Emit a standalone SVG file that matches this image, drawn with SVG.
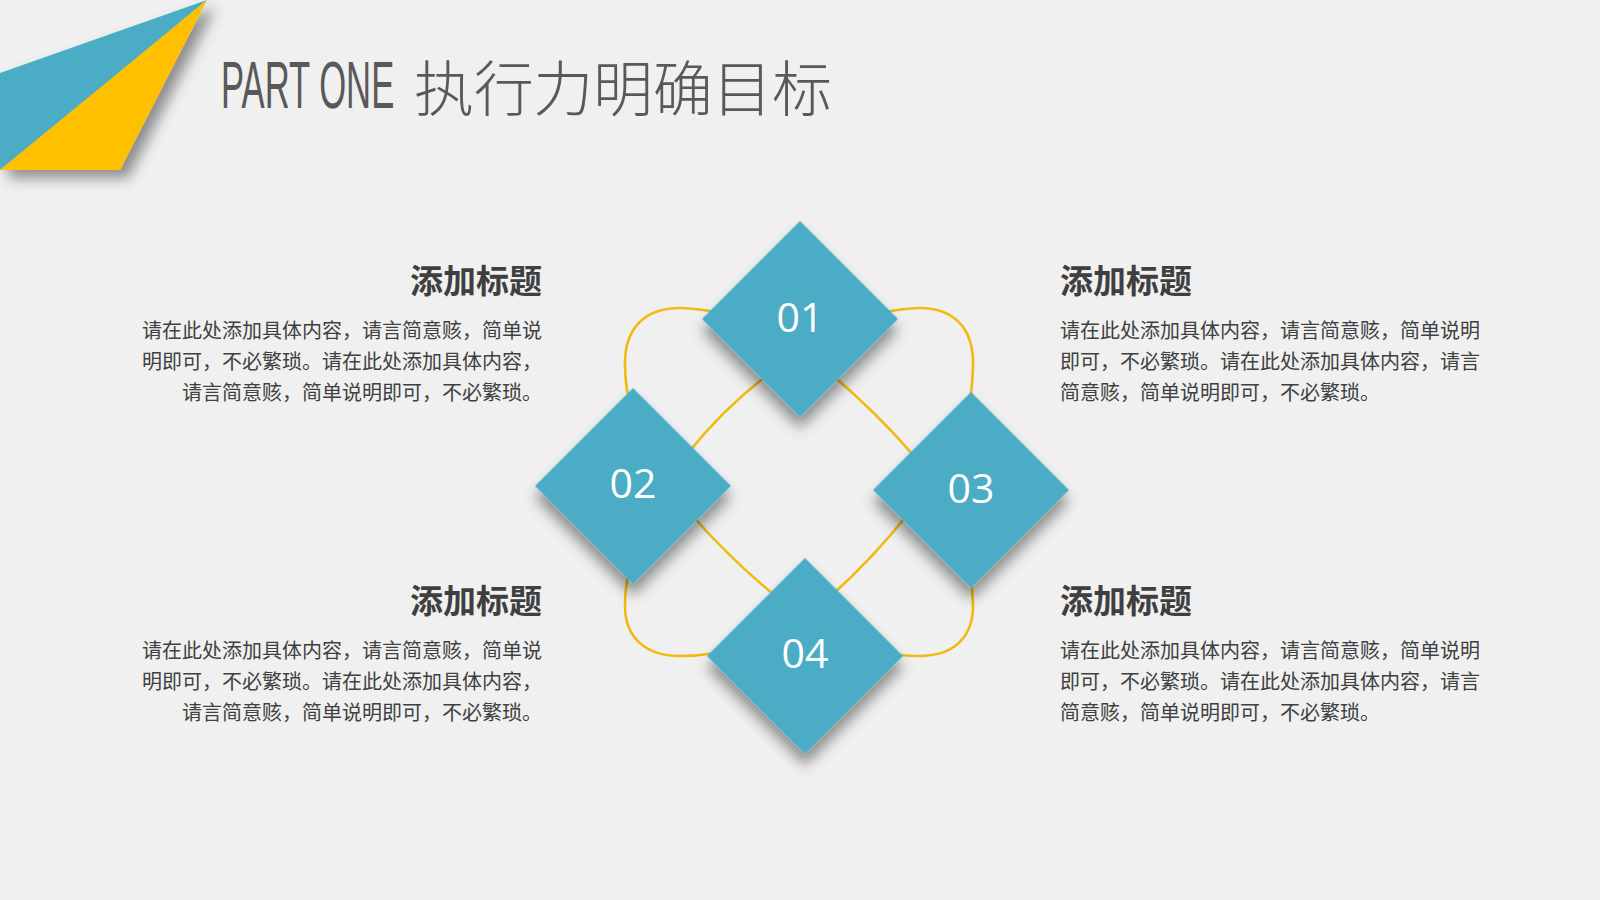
<svg xmlns="http://www.w3.org/2000/svg" width="1600" height="900" viewBox="0 0 1600 900">
<defs>
<filter id="sh" x="-30%" y="-30%" width="170%" height="170%">
<feDropShadow dx="8" dy="8" stdDeviation="7" flood-color="#000" flood-opacity="0.42"/>
</filter>
<style>
.dia{fill:#4BACC6;}
.num{fill:#fff;font-family:"Open Sans","Noto Sans",sans-serif;font-size:41px;text-anchor:middle;}
.con{fill:none;stroke:#F2B90F;stroke-width:2.6;stroke-linecap:round;}
.hd{fill:#3F3F3F;font-family:"Noto Sans CJK SC",sans-serif;font-weight:bold;font-size:33px;}
.bd{fill:#404040;font-family:"Noto Sans CJK SC",sans-serif;font-size:20px;}
.r{text-anchor:end;}
</style>
</defs>
<rect width="1600" height="900" fill="#F0F0F0"/>
<g id="corner" filter="url(#sh)">
<polygon points="0,73 207,0 0,170" fill="#4BACC6"/>
<polygon points="207,0 120,170 0,170" fill="#FFC000"/>
</g>
<g id="title">
<text transform="translate(221,108) scale(0.525,1)" x="0" y="0" font-family="'Liberation Sans',sans-serif" font-size="66" fill="#595959">PART ONE</text>
<text x="414" y="111" font-family="'Noto Sans CJK SC',sans-serif" font-weight="300" font-size="60" fill="#595959" textLength="418" lengthAdjust="spacing">执行力明确目标</text>
</g>
<g id="connectors">
<path class="con" d="M716,312 C702,310 692,308 680,308 C645,308 625,328 625,363 C625,375 626,387 629,400"/>
<path class="con" d="M884,312 C898,310 908,308 919,308 C954,308 973,328 973,363 C973,375 972,387 970,400"/>
<path class="con" d="M629,572 C626,584 625,594 625,606 C625,637 645,656 680,656 C692,656 704,655 716,653"/>
<path class="con" d="M970,576 C972,586 973,596 973,606 C973,637 954,656 919,656 C908,656 898,655 890,653"/>
<path class="con" d="M770,373 Q724,408 688,453"/>
<path class="con" d="M830,373 Q877,413 914,456"/>
<path class="con" d="M690,513 Q731,560 778,598"/>
<path class="con" d="M908,514 Q873,558 832,595"/>
</g>
<g id="node-01">
<rect class="dia" x="-69.3" y="-69.3" width="138.6" height="138.6" transform="translate(800,319) rotate(45)" filter="url(#sh)"/>
<text class="num" x="800" y="332">01</text>
</g>
<g id="node-02">
<rect class="dia" x="-69.3" y="-69.3" width="138.6" height="138.6" transform="translate(633,486) rotate(45)" filter="url(#sh)"/>
<text class="num" x="633" y="498">02</text>
</g>
<g id="node-03">
<rect class="dia" x="-69.3" y="-69.3" width="138.6" height="138.6" transform="translate(971,490) rotate(45)" filter="url(#sh)"/>
<text class="num" x="971" y="503">03</text>
</g>
<g id="node-04">
<rect class="dia" x="-69.3" y="-69.3" width="138.6" height="138.6" transform="translate(805,656) rotate(45)" filter="url(#sh)"/>
<text class="num" x="805" y="668">04</text>
</g>
<g id="text-tl">
<text class="hd r" x="542" y="293">添加标题</text>
<text class="bd r" x="542" y="337.5">请在此处添加具体内容，请言简意赅，简单说</text>
<text class="bd r" x="542" y="368.5">明即可，不必繁琐。请在此处添加具体内容，</text>
<text class="bd r" x="542" y="399.5">请言简意赅，简单说明即可，不必繁琐。</text>
</g>
<g id="text-bl">
<text class="hd r" x="542" y="613">添加标题</text>
<text class="bd r" x="542" y="657.5">请在此处添加具体内容，请言简意赅，简单说</text>
<text class="bd r" x="542" y="688.5">明即可，不必繁琐。请在此处添加具体内容，</text>
<text class="bd r" x="542" y="719.5">请言简意赅，简单说明即可，不必繁琐。</text>
</g>
<g id="text-tr">
<text class="hd" x="1060" y="293">添加标题</text>
<text class="bd" x="1060" y="337.5">请在此处添加具体内容，请言简意赅，简单说明</text>
<text class="bd" x="1060" y="368.5">即可，不必繁琐。请在此处添加具体内容，请言</text>
<text class="bd" x="1060" y="399.5">简意赅，简单说明即可，不必繁琐。</text>
</g>
<g id="text-br">
<text class="hd" x="1060" y="613">添加标题</text>
<text class="bd" x="1060" y="657.5">请在此处添加具体内容，请言简意赅，简单说明</text>
<text class="bd" x="1060" y="688.5">即可，不必繁琐。请在此处添加具体内容，请言</text>
<text class="bd" x="1060" y="719.5">简意赅，简单说明即可，不必繁琐。</text>
</g>
</svg>
